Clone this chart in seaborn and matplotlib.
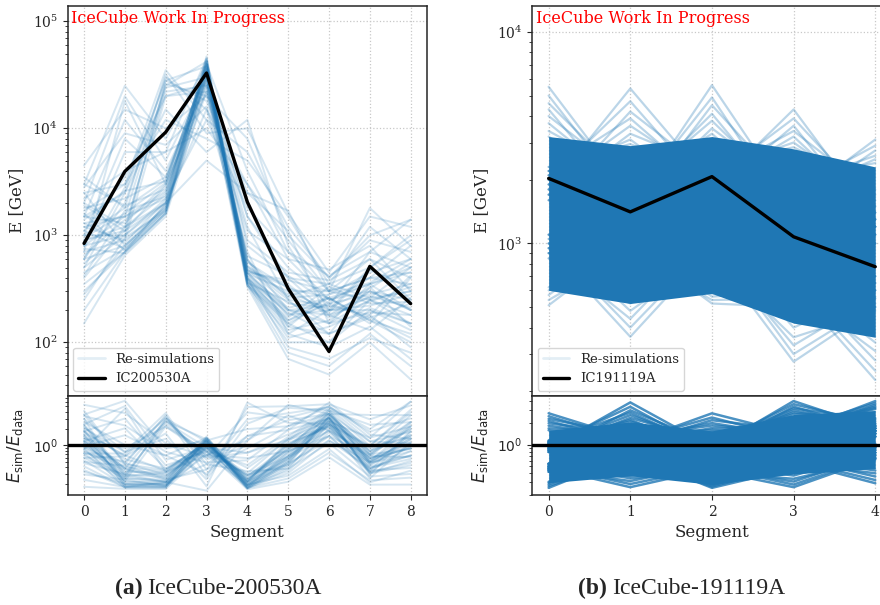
import numpy as np
import pandas as pd
import matplotlib
matplotlib.use("Agg")
import matplotlib.pyplot as plt
import seaborn as sns

# ---------------- data ----------------
a_segments = [0, 1, 2, 3, 4, 5, 6, 7, 8]
a_data = [840, 3960, 9200, 32900, 2050, 318, 82, 513, 230]
a_sims = [
    [900, 1100, 2000, 38000, 420, 180, 200, 260, 300],
    [600, 800, 1700, 42000, 360, 130, 160, 300, 200],
    [1200, 1500, 2600, 35000, 500, 250, 220, 180, 420],
    [450, 750, 1900, 40000, 380, 110, 140, 210, 150],
    [1500, 1300, 3000, 30000, 560, 320, 260, 350, 500],
    [800, 1000, 2200, 45000, 400, 200, 180, 130, 260],
    [350, 700, 1600, 33000, 340, 150, 240, 400, 350],
    [1000, 1800, 3300, 37000, 450, 380, 300, 250, 180],
    [700, 900, 1800, 28000, 600, 140, 120, 170, 110],
    [2000, 1200, 2400, 41000, 480, 230, 210, 320, 550],
    [550, 1100, 2900, 36000, 370, 170, 330, 230, 240],
    [1300, 850, 2100, 44000, 520, 280, 190, 480, 320],
    [250, 950, 1700, 31000, 350, 100, 100, 200, 130],
    [950, 1600, 3100, 39000, 430, 210, 260, 150, 400],
    [650, 1400, 2500, 34000, 470, 350, 170, 270, 210],
    [1800, 2200, 3500, 27000, 580, 260, 280, 360, 600],
    [1100, 750, 1650, 36000, 400, 160, 230, 280, 350],
    [1600, 720, 1750, 40000, 360, 240, 150, 190, 180],
    [2500, 800, 1900, 33000, 440, 300, 300, 400, 450],
    [750, 680, 1600, 43000, 340, 120, 200, 220, 280],
    [1400, 2600, 3200, 38000, 390, 190, 120, 330, 140],
    [420, 1700, 2300, 35000, 510, 270, 350, 260, 500],
    [3000, 1900, 2700, 29000, 640, 420, 230, 170, 230],
    [900, 1200, 2000, 47000, 380, 140, 280, 450, 600],
    [800, 1500, 26000, 20000, 1500, 500, 250, 300, 200],
    [1500, 2500, 30000, 15000, 3000, 900, 300, 600, 400],
    [400, 1200, 22000, 25000, 450, 200, 150, 250, 300],
    [2500, 3000, 35000, 12000, 6000, 1200, 400, 900, 700],
    [1000, 1000, 28000, 18000, 2000, 300, 200, 200, 150],
    [600, 2000, 24000, 30000, 800, 400, 350, 500, 900],
    [3500, 1800, 32000, 9000, 10000, 1600, 450, 1500, 1200],
    [1200, 900, 20000, 22000, 1200, 250, 120, 180, 90],
    [600, 2800, 28000, 38000, 470, 330, 180, 240, 330],
    [1900, 1100, 25000, 42000, 350, 160, 260, 160, 120],
    [1100, 3500, 20000, 26000, 900, 450, 380, 600, 250],
    [2000, 20000, 5000, 30000, 1500, 400, 180, 300, 250],
    [1500, 12000, 4000, 25000, 600, 200, 220, 700, 500],
    [3000, 25000, 8000, 40000, 4000, 700, 300, 400, 800],
    [1000, 8000, 3500, 35000, 400, 150, 100, 250, 150],
    [4500, 15000, 10000, 20000, 8000, 1000, 400, 1000, 1400],
    [800, 6000, 6000, 45000, 450, 180, 260, 160, 100],
    [2800, 9000, 7000, 16000, 1100, 600, 250, 350, 450],
    [700, 18000, 3000, 22000, 2500, 1700, 300, 1800, 800],
    [1700, 3000, 12000, 8000, 5000, 1500, 350, 1200, 600],
    [500, 2500, 15000, 6000, 12000, 800, 200, 500, 1000],
    [2200, 4000, 6000, 10000, 3000, 600, 480, 800, 300],
    [300, 700, 2000, 5000, 2500, 1100, 150, 350, 200],
    [1300, 1500, 2200, 12000, 1800, 700, 420, 700, 1400],
    [150, 650, 1500, 25000, 330, 70, 50, 100, 45],
    [200, 700, 1600, 30000, 350, 80, 60, 120, 60],
    [280, 800, 1800, 22000, 400, 90, 70, 110, 80],
    [500, 1000, 2000, 15000, 700, 120, 90, 140, 70],
]

b_segments = [0, 1, 2, 3, 4]
b_data = [2030, 1410, 2070, 1075, 776]
b_core_lo = [600, 520, 580, 420, 360]
b_core_hi = [3200, 2900, 3200, 2800, 2300]
b_sims = [
    # high excursions
    [5500, 1700, 1900, 1300, 1100],
    [5000, 1600, 2100, 1500, 1200],
    [4600, 1900, 1700, 1200, 1000],
    [4300, 1500, 2000, 1400, 1300],
    [4000, 2000, 2200, 1600, 1100],
    [3700, 1800, 1600, 1300, 1400],
    [3400, 2100, 1800, 1700, 1200],
    [3200, 1700, 2300, 1500, 1500],
    [1800, 5400, 1900, 1400, 1200],
    [2000, 4700, 1700, 1300, 1000],
    [1600, 4200, 2100, 1500, 1300],
    [2200, 3900, 1800, 1200, 1100],
    [1900, 3600, 2000, 1600, 1400],
    [1700, 3300, 2300, 1300, 1200],
    [2100, 3100, 1600, 1500, 1000],
    [2300, 2950, 2000, 1400, 1300],
    [1700, 1500, 5600, 1500, 1200],
    [2000, 1600, 4900, 1300, 1100],
    [1800, 1400, 4500, 1700, 1300],
    [2200, 1700, 4100, 1400, 1000],
    [1600, 1800, 3800, 1600, 1400],
    [2100, 1500, 3500, 1800, 1200],
    [1900, 1900, 3300, 1500, 1300],
    [2300, 1600, 3100, 1700, 1100],
    [1800, 1500, 1800, 4300, 1300],
    [2000, 1400, 2000, 3900, 1500],
    [1700, 1700, 1700, 3600, 1200],
    [2100, 1600, 2100, 3400, 1700],
    [1900, 1300, 1900, 3200, 1400],
    [2200, 1800, 2200, 3000, 1600],
    [1600, 1500, 2300, 2850, 1800],
    [1800, 1500, 1900, 1600, 3100],
    [2000, 1600, 1700, 1800, 2900],
    [1700, 1400, 2100, 1500, 2750],
    [2100, 1700, 1800, 1900, 2600],
    [1900, 1300, 2000, 1700, 2500],
    [2200, 1800, 2200, 2000, 2400],
    # low excursions
    [510, 1000, 900, 800, 700],
    [540, 900, 1100, 700, 650],
    [570, 1100, 950, 850, 600],
    [600, 950, 1000, 750, 700],
    [620, 1050, 1200, 900, 800],
    [950, 362, 950, 700, 600],
    [1000, 400, 1000, 650, 550],
    [900, 440, 1100, 750, 650],
    [1100, 480, 900, 600, 500],
    [850, 520, 1050, 800, 700],
    [900, 1000, 520, 500, 600],
    [1000, 900, 540, 550, 500],
    [1100, 1100, 560, 600, 650],
    [950, 950, 580, 480, 550],
    [850, 1050, 600, 650, 700],
    [1000, 900, 900, 276, 500],
    [1100, 1000, 1000, 300, 520],
    [900, 850, 950, 330, 560],
    [1050, 950, 850, 360, 480],
    [950, 1100, 1100, 400, 600],
    [1000, 900, 1000, 620, 226],
    [1100, 1000, 900, 650, 250],
    [900, 850, 1100, 700, 280],
    [950, 1050, 950, 600, 310],
    [1050, 950, 850, 680, 340],
]

a_name = "IC200530A"
b_name = "IC191119A"
a_caption = "IceCube-200530A"
b_caption = "IceCube-191119A"


def long_form(segments, sims, data):
    rows = []
    for i, s in enumerate(sims):
        for x, e, d in zip(segments, s, data):
            rows.append({"seg": x, "E": e, "ratio": e / d, "sim": i})
    return pd.DataFrame(rows)


# ---------------- style ----------------
sns.set_style("ticks")
plt.rcParams["font.family"] = ["DejaVu Serif"]
plt.rcParams["mathtext.fontset"] = "dejavusans"
plt.rcParams["axes.linewidth"] = 1.1

C0 = "#1f77b4"
fig = plt.figure(figsize=(8.8, 6.05), dpi=100)

W = 359.3 / 880
main_b, main_h = 1 - 396 / 605, (396 - 5.7) / 605
rat_b, rat_h = 1 - 495 / 605, 99 / 605


def panel(left, segments, data, sims, name, ylim, rylim, core=None,
          sim_alpha=0.15, rat_alpha=0.15, lw=1.4, rat_lw=1.4):
    ax = fig.add_axes([left, main_b, W, main_h])
    axr = fig.add_axes([left, rat_b, W, rat_h], sharex=ax)
    ax.set_yscale("log")
    axr.set_yscale("log")
    df = long_form(segments, sims, data)
    ddf = pd.DataFrame({"seg": segments, "E": data})
    if core is not None:
        lo, hi = core
        ax.fill_between(segments, lo, hi, color=C0, lw=0, zorder=1)
        axr.fill_between(segments, np.array(lo) / np.array(data),
                         np.array(hi) / np.array(data), color=C0, lw=0, zorder=1)
    sns.lineplot(data=df, x="seg", y="E", units="sim", estimator=None,
                 color=C0, alpha=sim_alpha, lw=lw, ax=ax, legend=False, zorder=2)
    sns.lineplot(data=ddf, x="seg", y="E", color="black", lw=2.4, ax=ax,
                 legend=False, zorder=5)
    sns.lineplot(data=df, x="seg", y="ratio", units="sim", estimator=None,
                 color=C0, alpha=rat_alpha, lw=rat_lw, ax=axr, legend=False,
                 zorder=2)
    axr.axhline(1.0, color="black", lw=2.4, zorder=5)

    n = len(segments)
    ax.set_xlim(-0.05 * (n - 1), (n - 1) * 1.05)
    ax.set_ylim(*ylim)
    axr.set_ylim(*rylim)
    axr.set_xticks(segments)
    axr.set_yticks([1])
    axr.set_yticklabels([r"$10^{0}$"])
    for a in (ax, axr):
        a.grid(True, which="major", ls=":", color="#c8c8c8", lw=0.9)
        a.tick_params(labelsize=10)
    ax.tick_params(labelbottom=False)
    ax.set_xlabel("")
    ax.set_ylabel("E [GeV]", fontsize=12)
    axr.set_xlabel("Segment", fontsize=12)
    axr.set_ylabel(r"$E_\mathrm{sim}/E_\mathrm{data}$", fontsize=12)
    for a in (ax, axr):
        a.yaxis.set_label_coords(-0.118, 0.5)

    h1, = ax.plot([], [], color=C0, alpha=0.12, lw=2)
    h2, = ax.plot([], [], color="black", lw=2.4)
    ax.legend([h1, h2], ["Re-simulations", name], loc="lower left",
              fontsize=9.5, framealpha=0.8, borderaxespad=0.4)
    ax.text(0.01, 0.99, "IceCube Work In Progress", color="red",
            transform=ax.transAxes, ha="left", va="top", fontsize=11.5)
    return ax, axr


panel(67.7 / 880, a_segments, a_data, a_sims, a_name, (31.5, 1.4e5),
      (0.127, 7.7), sim_alpha=0.18, rat_alpha=0.18, lw=1.4, rat_lw=1.4)
panel(532.3 / 880, b_segments, b_data, b_sims, b_name, (190, 13300),
      (0.2, 4.7), core=(b_core_lo, b_core_hi), sim_alpha=0.3,
      rat_alpha=0.8, lw=1.6, rat_lw=1.8)

# captions
cap_kw = dict(fontsize=17, family=["Liberation Serif"], va="center")
fig.text(115 / 880, 1 - 588 / 605, "(a)", fontweight="bold", **cap_kw)
fig.text(146.7 / 880, 1 - 588 / 605, a_caption, **cap_kw)
fig.text(578 / 880, 1 - 588 / 605, "(b)", fontweight="bold", **cap_kw)
fig.text(611.7 / 880, 1 - 588 / 605, b_caption, **cap_kw)

fig.savefig("out.png", dpi=100)
